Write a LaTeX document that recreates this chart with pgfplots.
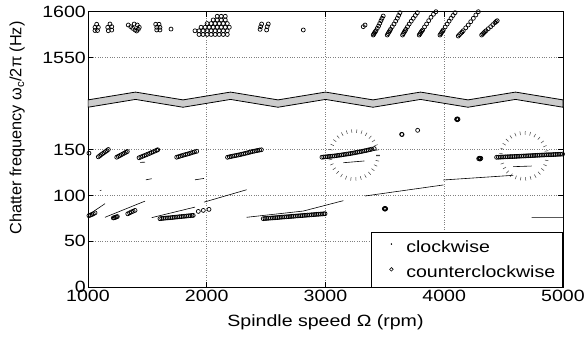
\documentclass[border=0pt]{standalone}
\usepackage{fontspec}
\setmainfont{Liberation Sans}[FakeStretch=1.2]
\newfontfamily\ylabfont{Liberation Sans}
\usepackage{pgfplots}
\usepackage{pgfplotstable}
\pgfplotsset{compat=1.18}
\usetikzlibrary{decorations.pathreplacing}

% clockwise (dense point traces -> thin lines); nan rows separate traces
\pgfplotstableread{
x y
1017 80
1143 91
nan nan
1100 105.4
1112 105.6
nan nan
1143 76.2
1480 93.8
nan nan
1438 136
1480 136.2
nan nan
1488 117
1536 118.2
nan nan
1536 75.8
1901 87.3
nan nan
1901 117
1977 118.5
nan nan
1977 92.7
2336 106.2
nan nan
2336 76.2
2813 83
3150 94.3
nan nan
3150 135.6
3327 137.5
nan nan
3333 99.4
3992 111.4
nan nan
3992 116.8
4581 121.9
nan nan
4581 131.3
4736 132
nan nan
4736 75.8
5000 75.8
}\cw

% counterclockwise, lower band (Hz)
\pgfplotstableread{
x y
1008 146
1087 142
1099 143.2
1111 144.4
1123 145.5
1135 146.6
1147 147.7
1159 148.8
1171 150
1242 141.6
1255 142.5
1268 143.4
1281 144.3
1294 145.2
1307 146.1
1320 147
1331 147.8
1430 141
1445 141.8
1460 142.6
1475 143.4
1490 144.2
1505 145
1520 145.8
1535 146.7
1550 147.6
1565 148.4
1580 149.2
1587 149.7
1747 141.6
1762 142.2
1777 142.8
1792 143.4
1807 144
1822 144.5
1837 145
1852 145.6
1867 146.2
1882 146.8
1897 147.4
1915 148
2175 141.5
2190 142
2205 142.4
2220 142.8
2235 143.2
2250 143.6
2265 144
2280 144.4
2295 144.9
2310 145.3
2325 145.8
2340 146.3
2355 146.8
2370 147.3
2385 147.8
2400 148.2
2415 148.6
2430 149
2445 149.4
2460 149.7
2970 141.6
2985 141.8
3000 142
3015 142.2
3030 142.4
3045 142.6
3060 142.8
3075 143
3090 143.3
3105 143.6
3120 143.8
3135 144.1
3150 144.4
3165 144.7
3180 145
3195 145.3
3210 145.6
3225 146
3240 146.3
3255 146.7
3270 147.1
3285 147.4
3300 147.8
3315 148.2
3330 148.6
3345 149
3360 149.5
3375 149.9
3390 150.4
3410 151
4290 140
4296 140.6
4302 140
4308 140.4
4300 139.6
3641 166.5
3645 166.3
3776 170.9
4104 182.9
4110 183.4
4116 182.9
4110 182.4
4441 141.5
4456 141.6
4471 141.7
4486 141.8
4501 141.9
4516 142
4531 142.1
4546 142.2
4561 142.3
4576 142.3
4591 142.4
4606 142.5
4621 142.6
4636 142.7
4651 142.8
4666 142.9
4681 143
4696 143.1
4711 143.2
4726 143.3
4741 143.4
4756 143.5
4771 143.6
4786 143.7
4801 143.8
4816 143.9
4831 144
4846 144.1
4861 144.2
4876 144.3
4891 144.3
4906 144.4
4921 144.5
4936 144.6
4951 144.7
4966 144.8
4981 144.9
4996 145
1008 78
1020 78.6
1032 79.2
1045 80
1059 81
1213 75.5
1222 75.8
1231 76.2
1240 76.6
1247 77
1335 80
1350 81
1365 82
1380 82.8
1396 83.7
1606 74.7
1621 74.9
1636 75.1
1651 75.3
1666 75.5
1681 75.6
1696 75.8
1711 76
1726 76.2
1741 76.4
1756 76.6
1771 76.8
1786 77
1801 77.2
1816 77.4
1831 77.6
1846 77.8
1861 78
1876 78.2
1886 78.3
1929 82.6
1971 83.7
2019 84.8
2476 74.7
2491 74.9
2506 75
2521 75.2
2536 75.3
2551 75.5
2566 75.6
2581 75.8
2596 75.9
2611 76.1
2626 76.3
2641 76.4
2656 76.6
2671 76.7
2686 76.9
2701 77
2716 77.2
2731 77.3
2746 77.5
2761 77.7
2776 77.8
2791 78
2806 78.1
2821 78.3
2836 78.4
2851 78.6
2866 78.7
2881 78.9
2896 79.1
2911 79.2
2926 79.4
2941 79.5
2956 79.7
2971 79.8
2986 80
2996 80.1
3495 85.5
3501 86
3507 85.5
3501 85
}\ccwlow

% counterclockwise, upper band (Hz)
\pgfplotstableread{
x y
1073 1586.3
1059 1583
1087 1583
1059 1579.5
1080 1579.5
1185 1586.6
1166 1583
1200 1583.7
1171 1579.3
1200 1580
1339 1585.5
1360 1583.7
1376 1581.9
1396 1580.1
1410 1579
1389 1586.6
1415 1585.5
1432 1583
1424 1580.8
1570 1586.3
1598 1586.3
1579 1583
1606 1583
1579 1580.1
1606 1580.1
1699 1581.1
2088 1595
2122 1595
2156 1595
2054 1591
2088 1591
2122 1591
2156 1591
2003 1587.1
2037 1587.1
2071 1587.1
2105 1587.1
2139 1587.1
2173 1587.1
1952 1583.1
1986 1583.1
2020 1583.1
2054 1583.1
2088 1583.1
2122 1583.1
2156 1583.1
2190 1583.1
1901 1579.2
1935 1579.2
1969 1579.2
2003 1579.2
2037 1579.2
2071 1579.2
2105 1579.2
2139 1579.2
2173 1579.2
1935 1575.2
1969 1575.2
2003 1575.2
2037 1575.2
2071 1575.2
2105 1575.2
2139 1575.2
2173 1575.2
2462 1586.6
2454 1583.7
2449 1580.8
2518 1586.6
2509 1583.7
2504 1580.1
2813 1580.1
3318 1583.7
3333 1585.5
3402 1574.6
3407 1575.8
3413 1577
3419 1578.2
3425 1579.3
3436 1581.9
3447 1584.4
3457 1587.3
3467 1590.2
3476 1592.8
3486 1595.3
3520 1574.6
3527 1576.2
3534 1577.7
3541 1579.2
3548 1580.8
3562 1583.7
3577 1586.6
3591 1589.7
3605 1592.8
3616 1595.9
3627 1598.9
3649 1574.6
3656 1576.2
3663 1577.7
3670 1579.2
3677 1580.8
3691 1583.7
3705 1586.6
3722 1589.7
3739 1592.8
3756 1595.9
3773 1598.9
3789 1574.6
3796 1576
3803 1577.4
3810 1578.8
3818 1580.1
3834 1583.4
3851 1586.6
3869 1590.2
3888 1593.9
3909 1597.2
3930 1600
3964 1574.6
3971 1576
3978 1577.4
3985 1578.8
3992 1580.1
4008 1583.4
4025 1586.6
4041 1589.7
4057 1592.8
4074 1595.9
4091 1598.9
4118 1573.5
4128 1575
4139 1576.4
4150 1577.8
4160 1579.3
4181 1582.4
4202 1585.5
4223 1589.1
4245 1592.8
4266 1596.4
4287 1600
4315 1574.6
4324 1575.8
4333 1577
4342 1578.2
4352 1579.3
4371 1581.5
4391 1583.7
4409 1585.9
4427 1588.1
4437 1589.2
4446 1590.2
}\ccwhigh

% axis-break band (plotted units)
\pgfplotstableread{
x y
1000 196
1400 204.5
1800 196
2200 204.5
2600 196
3000 204.5
3400 196
3800 204.5
4200 196
4600 204.5
5000 196
5000 204
4600 212.5
4200 204
3800 212.5
3400 204
3000 212.5
2600 204
2200 212.5
1800 204
1400 212.5
1000 204
}\band

\begin{document}
\begin{tikzpicture}
\begin{axis}[
  scale only axis, width=475pt, height=275.6pt,
  xmin=1000, xmax=5000, ymin=0, ymax=300,
  xtick={1000,2000,3000,4000,5000},
  ytick={0,50,100,150,250,300},
  yticklabels={0,50,100,150,1550,1600},
  /pgf/number format/assume math mode=true,
  /pgf/number format/1000 sep={},
  tick align=inside, major tick length=5pt,
  tick style={black, line width=0.6pt},
  grid=major, grid style={dotted, gray, line width=0.6pt},
  axis line style={line width=0.8pt},
  tick label style={font=\fontsize{16.3}{19}\selectfont},
  xticklabel style={inner ysep=3pt},
  yticklabel style={inner xsep=2pt},
  xlabel style={font=\fontsize{16.3}{19}\selectfont, yshift=-6pt},
  ylabel style={font=\ylabfont\fontsize{16.3}{19}\selectfont,
    at={(axis description cs:-0.149,0.578)}, anchor=center},
  xlabel={Spindle speed Ω (rpm)},
  ylabel={Chatter frequency ω\textsubscript{c}/2π (Hz)},
  unbounded coords=jump,
  legend cell align=left,
  legend style={at={(1,0)}, anchor=south east, draw=black, line width=0.6pt,
    font=\fontsize{16.3}{19}\selectfont, inner xsep=5.5pt, inner ysep=6pt,
    row sep=8pt},
]
\addplot[black, line width=0.6pt, mark=none,
  legend image code/.code={\path (0pt,0pt) (27pt,0pt);
    \fill[black] (14.5pt,0.3em) circle (0.4pt);}]
  table[x=x, y=y] {\cw};
\addlegendentry{clockwise}
\addplot[only marks, mark=o, mark size=2pt, black, line width=0.7pt,
  legend image code/.code={\path (0pt,0pt) (27pt,0pt);
    \draw[line width=0.6pt] (14.5pt,0.3em) circle (1.8pt);}]
  table[x=x, y=y] {\ccwlow};
\addlegendentry{counterclockwise}
\addplot[only marks, mark=o, mark size=2pt, black, line width=0.7pt, forget plot]
  table[x=x, y expr=\thisrow{y}-1300] {\ccwhigh};
\addplot[fill=gray!40, draw=black, line width=0.8pt, forget plot]
  table[x=x, y=y] {\band} -- cycle;
\draw[black!75, line width=0.5pt, decorate,
  decoration={ticks, segment length=5pt, amplitude=1.8pt}]
  (axis cs:3240,144) circle[radius=24pt];
\draw[black!75, line width=0.5pt, decorate,
  decoration={ticks, segment length=5pt, amplitude=1.8pt}]
  (axis cs:4672,143) circle[radius=23pt];
\end{axis}
\pgfresetboundingbox
\path ([shift={(-88pt,-49pt)}]current axis.south west) rectangle ([shift={(24pt,11.7pt)}]current axis.north east);
\end{tikzpicture}
\end{document}
